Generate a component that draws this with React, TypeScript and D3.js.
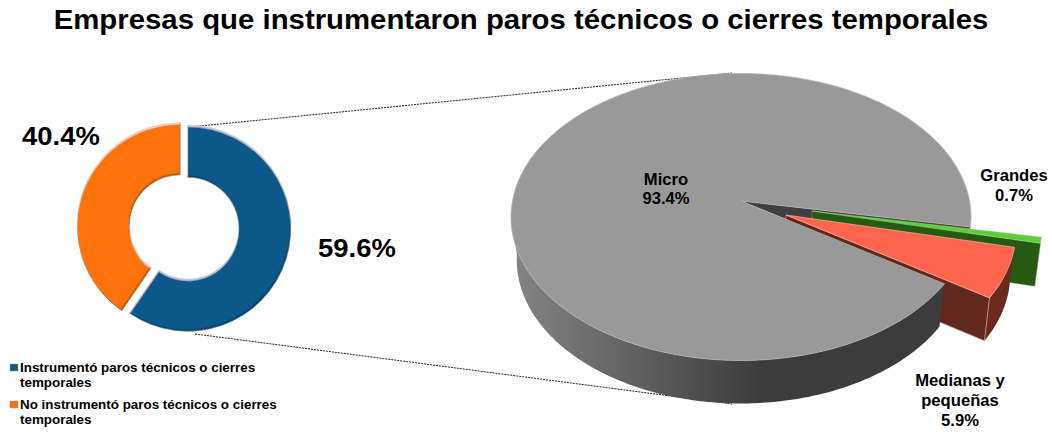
import React from "react";
import * as d3 from "d3";

const titleText = "Empresas que instrumentaron paros técnicos o cierres temporales";

// left donut
const donutNames = ["Instrumentó", "No instrumentó"];
const donutValues = [59.6, 40.4];
const donutColors = ["#08598a", "#ff7308"];
const legendLines = [
  ["Instrumentó paros técnicos o cierres", "temporales"],
  ["No instrumentó paros técnicos o cierres", "temporales"],
];

// right pie, drawn clockwise from the notch
const sizeNames = ["Grandes", "Medianas y pequeñas", "Micro"];
const sizeValues = [0.7, 5.9, 93.4];

const width = 1052;
const height = 432;
const rad = Math.PI / 180;
const stretch = 1.06; // the source picture is slightly wider than tall

const donut = { cx: 184, cy: 227, inner: 51, outer: 103, explode: 4 };
const pie3d = { cx: 741, cy: 217, rx: 230, ry: 143.5, depth: 43, wallScale: 0.975, apexLift: 16 };
const offsets: Record<string, [number, number]> = {
  Grandes: [71, 10],
  "Medianas y pequeñas": [45, 14],
  Micro: [0, 0],
};

const donutArcs = d3.pie<number>().sort(null)(donutValues);
const arcPath = d3.arc<d3.PieArcDatum<number>>().innerRadius(donut.inner).outerRadius(donut.outer);

const sizeArcs = d3
  .pie<number>()
  .sort(null)
  .startAngle(94 * rad)
  .endAngle(454 * rad)(sizeValues);

type Pt = [number, number];
const line = d3.line();

const rimPt = (a: number, off: Pt, low = false): Pt => {
  const s = low ? pie3d.wallScale : 1;
  return [
    pie3d.cx + off[0] + pie3d.rx * s * Math.sin(a),
    pie3d.cy + off[1] + (low ? pie3d.depth : 0) - pie3d.ry * Math.cos(a),
  ];
};
const apexPt = (off: Pt, low = false): Pt => [
  pie3d.cx + off[0],
  pie3d.cy + off[1] - pie3d.apexLift + (low ? pie3d.depth : 0),
];
const rim = (a0: number, a1: number, off: Pt, low = false): Pt[] => {
  const n = Math.max(2, Math.ceil(Math.abs(a1 - a0) / (1 * rad)));
  return d3.range(n + 1).map((i) => rimPt(a0 + ((a1 - a0) * i) / n, off, low));
};
const closed = (pts: Pt[]) => line(pts) + "Z";

const topFace = (a0: number, a1: number, off: Pt) => closed([apexPt(off), ...rim(a0, a1, off)]);
const outerWall = (a0: number, a1: number, off: Pt) =>
  closed([...rim(a0, a1, off), ...rim(a1, a0, off, true)]);
const cutWall = (a: number, off: Pt) =>
  closed([apexPt(off), rimPt(a, off), rimPt(a, off, true), apexPt(off, true)]);

const [grandes, medianas, micro] = sizeArcs;
const gOff = offsets[sizeNames[0]];
const mOff = offsets[sizeNames[1]];
const zero: Pt = [0, 0];

const font = "'Liberation Sans', Arial, sans-serif";

const Label = ({ x, y, size, anchor = "start", children }: any) => (
  <text transform={`translate(${x},${y}) scale(${stretch},1)`} fontSize={size} textAnchor={anchor}>
    {children}
  </text>
);

export default function App() {
  return (
    <svg
      width={width}
      height={height}
      viewBox={`0 0 ${width} ${height}`}
      style={{ position: "absolute", left: 0, top: 0, background: "#fff" }}
      fontFamily={font}
      fontWeight="bold"
      fill="#000"
    >
      <defs>
        <linearGradient id="microWall" gradientUnits="userSpaceOnUse" x1={510} x2={760} y1={0} y2={0}>
          <stop offset="0" stopColor="#858585" />
          <stop offset="1" stopColor="#3c3c3c" />
        </linearGradient>
        {/* bevel: light band on upward edges, dark band on downward edges */}
        <filter id="bevel" x="-5%" y="-5%" width="110%" height="110%">
          <feGaussianBlur in="SourceGraphic" stdDeviation="0.45" result="body" />
          <feOffset in="SourceAlpha" dy={1.6} result="down" />
          <feComposite in="SourceAlpha" in2="down" operator="out" result="topBand" />
          <feGaussianBlur in="topBand" stdDeviation="0.5" result="topSoft" />
          <feFlood floodColor="#ffffff" floodOpacity={0.5} />
          <feComposite in2="topSoft" operator="in" result="light" />
          <feOffset in="SourceAlpha" dy={-1.6} dx={-0.8} result="up" />
          <feComposite in="SourceAlpha" in2="up" operator="out" result="lowBand" />
          <feGaussianBlur in="lowBand" stdDeviation="0.5" result="lowSoft" />
          <feFlood floodColor="#000000" floodOpacity={0.4} />
          <feComposite in2="lowSoft" operator="in" result="dark" />
          <feMerge>
            <feMergeNode in="body" />
            <feMergeNode in="light" />
            <feMergeNode in="dark" />
          </feMerge>
        </filter>
      </defs>

      <Label x={521} y={29} size={27.7} anchor="middle">
        {titleText}
      </Label>

      {/* dotted leader lines */}
      <g stroke="#222" strokeWidth={1} strokeDasharray="2 1" fill="none">
        <line x1={190} y1={127} x2={732} y2={73} />
        <line x1={195} y1={334} x2={732} y2={404} />
      </g>

      {/* donut */}
      {donutArcs.map((d, i) => {
        const mid = (d.startAngle + d.endAngle) / 2;
        const dx = donut.explode * Math.sin(mid);
        const dy = -donut.explode * Math.cos(mid);
        return (
          <g key={donutNames[i]} transform={`translate(${donut.cx + dx},${donut.cy + dy})`}>
            <path d={arcPath(d)!} fill={donutColors[i]} stroke="#a0a0a0" strokeWidth={0.6} filter="url(#bevel)" />
          </g>
        );
      })}
      <Label x={22} y={145} size={25.9}>40.4%</Label>
      <Label x={318} y={257} size={25.9}>59.6%</Label>

      {/* legend */}
      {legendLines.map((lines, i) => (
        <g key={i}>
          <rect x={10} y={i === 0 ? 364 : 401} width={8} height={7} fill={donutColors[i]} stroke="#999" strokeWidth={0.5} />
          {lines.map((t, j) => (
            <Label key={t} x={20} y={(i === 0 ? 372 : 409) + j * 15} size={12.65}>
              {t}
            </Label>
          ))}
        </g>
      ))}

      {/* 3d pie: notch first, then exploded slices, then the big slice */}
      <path
        d={closed([apexPt(zero), rimPt(micro.endAngle, zero), rimPt(micro.startAngle, zero)])}
        fill="#404040"
      />

      <path d={outerWall(grandes.startAngle, grandes.endAngle, gOff)} fill="#2a6116" />
      <path d={cutWall(grandes.endAngle, gOff)} fill="#265a12" stroke="#8fae85" strokeWidth={0.4} />
      <path d={topFace(grandes.startAngle, grandes.endAngle, gOff)} fill="#5ccf38" stroke="#a5e390" strokeWidth={0.4} />

      <path d={outerWall(medianas.startAngle, medianas.endAngle, mOff)} fill="#6b2a1d" />
      <path d={cutWall(medianas.endAngle, mOff)} fill="#63281c" stroke="#c9a8a0" strokeWidth={0.7} />

      <path d={outerWall(micro.startAngle, 272 * rad, zero)} fill="url(#microWall)" />
      <path d={topFace(micro.startAngle, micro.endAngle, [0, 0])} fill="#999999" stroke="#b5b5b5" strokeWidth={0.7} />

      <path d={topFace(medianas.startAngle, medianas.endAngle, mOff)} fill="#ff644d" stroke="#ffc0b5" strokeWidth={0.6} />

      {/* slice labels */}
      <Label x={666} y={185} size={15.7} anchor="middle">Micro</Label>
      <Label x={666} y={204} size={15.7} anchor="middle">93.4%</Label>
      <Label x={1014} y={181} size={15.7} anchor="middle">Grandes</Label>
      <Label x={1014} y={201} size={15.7} anchor="middle">0.7%</Label>
      <Label x={960} y={386} size={15.7} anchor="middle">Medianas y</Label>
      <Label x={960} y={406} size={15.7} anchor="middle">pequeñas</Label>
      <Label x={960} y={426} size={15.7} anchor="middle">5.9%</Label>
    </svg>
  );
}
